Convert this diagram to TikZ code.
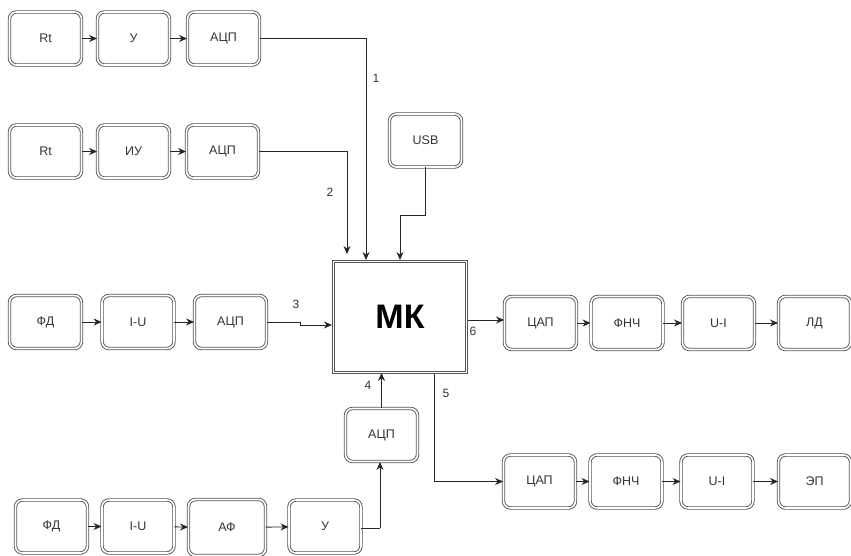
\documentclass[tikz,border=0pt]{standalone}
\usepackage{fontspec}
\setmainfont{Liberation Sans}
\usetikzlibrary{arrows.meta,calc}
\definecolor{edge}{HTML}{555555}
\definecolor{txt}{HTML}{333333}
\tikzset{
  blk/.style={rectangle, rounded corners=7pt, draw=edge, double=white, double distance=1.6pt, line width=0.9pt,
    minimum width=72pt, minimum height=53pt, inner sep=0pt, text=txt, font=\fontsize{12.5}{14}\selectfont},
  arr/.style={draw=black!85, line width=0.9pt, -{Stealth[length=8pt,width=7pt]}},
  ln/.style={draw=black!85, line width=0.9pt},
  lbl/.style={text=txt, font=\fontsize{12}{14}\selectfont, inner sep=0pt}
}
\begin{document}
\begin{tikzpicture}[x=1pt,y=-1pt]
\useasboundingbox (0,0) rectangle (851,556);
% row 1
\node[blk] (r1a) at (45.5,38.5) {Rt};
\node[blk] (r1b) at (133.5,38.5) {У};
\node[blk] (r1c) at (223.5,38.5) {АЦП};
% row 2
\node[blk] (r2a) at (45.5,151.5) {Rt};
\node[blk] (r2b) at (133.5,151.5) {ИУ};
\node[blk] (r2c) at (222.5,151.5) {АЦП};
% row 3
\node[blk] (r3a) at (45.5,322) {ФД};
\node[blk] (r3b) at (138,322) {I-U};
\node[blk] (r3c) at (230.5,322) {АЦП};
% USB
\node[blk] (usb) at (425.5,140.5) {USB};
% MK
\node[blk, rounded corners=0pt, minimum width=133pt, minimum height=111pt, text=black,
  font=\fontsize{34}{38}\selectfont\bfseries] (mk) at (400,317) {МК};
% middle ADC
\node[blk] (a4) at (381.5,435) {АЦП};
% right top
\node[blk] (d1) at (540.5,323) {ЦАП};
\node[blk] (f1) at (627,323) {ФНЧ};
\node[blk] (u1) at (718.5,323) {U-I};
\node[blk] (ld) at (814.5,323) {ЛД};
% right bottom
\node[blk] (d2) at (539.5,481.5) {ЦАП};
\node[blk] (f2) at (626,481.5) {ФНЧ};
\node[blk] (u2) at (717,481.5) {U-I};
\node[blk] (ep) at (814.5,481.5) {ЭП};
% bottom row
\node[blk] (b1) at (51.5,526.5) {ФД};
\node[blk] (b2) at (138,526.5) {I-U};
\node[blk, minimum height=56pt, minimum width=77pt] (b3) at (227,527.5) {АФ};
\node[blk] (b4) at (325,526.5) {У};

% chain arrows
\draw[arr] (r1a) -- (r1b);
\draw[arr] (r1b) -- (r1c);
\draw[arr] (r2a) -- (r2b);
\draw[arr] (r2b) -- (r2c);
\draw[arr] (r3a) -- (r3b);
\draw[arr] (r3b) -- (r3c);
\draw[arr] (d1) -- (f1);
\draw[arr] (f1) -- (u1);
\draw[arr] (u1) -- (ld);
\draw[arr] (d2) -- (f2);
\draw[arr] (f2) -- (u2);
\draw[arr] (u2) -- (ep);
\draw[arr] (b1) -- (b2);
\draw[arr] (b2) -- (b3);
\draw[arr] (b3) -- (b4);

% connectors to MK
\coordinate (c1) at (366,260);
\draw[arr] (r1c.east) -| (c1);
\node[lbl] (l1) at (376,78) {1};
\coordinate (c2) at (347,254);
\draw[arr] (r2c.east) -| (c2);
\node[lbl] (l2) at (330,192) {2};
\coordinate (cu1) at (425.5,215);
\coordinate (cu2) at (400,215);
\coordinate (cu3) at (400,260);
\draw[arr] (usb.south) -- (cu1) -- (cu2) -- (cu3);
\coordinate (c3a) at (300,322);
\coordinate (c3b) at (300,325);
\coordinate (c3c) at (332,325);
\draw[arr] (r3c.east) -- (c3a) -- (c3b) -- (c3c);
\node[lbl] (l3) at (296,304) {3};
\draw[arr] (a4.north) -- (a4.north |- mk.south);
\node[lbl] (l4) at (368,385) {4};
\coordinate (c5) at (434,374);
\draw[arr] (c5) |- (d2.west);
\node[lbl] (l5) at (446,393) {5};
\coordinate (c6) at (468,320);
\draw[arr] (c6) -- (d1.west |- c6);
\node[lbl] (l6) at (473,331) {6};
\coordinate (c7) at (380,528);
\draw[ln] (b4.east |- c7) -- (c7);
\draw[arr] (c7) -- (c7 |- a4.south);
\end{tikzpicture}
\end{document}
